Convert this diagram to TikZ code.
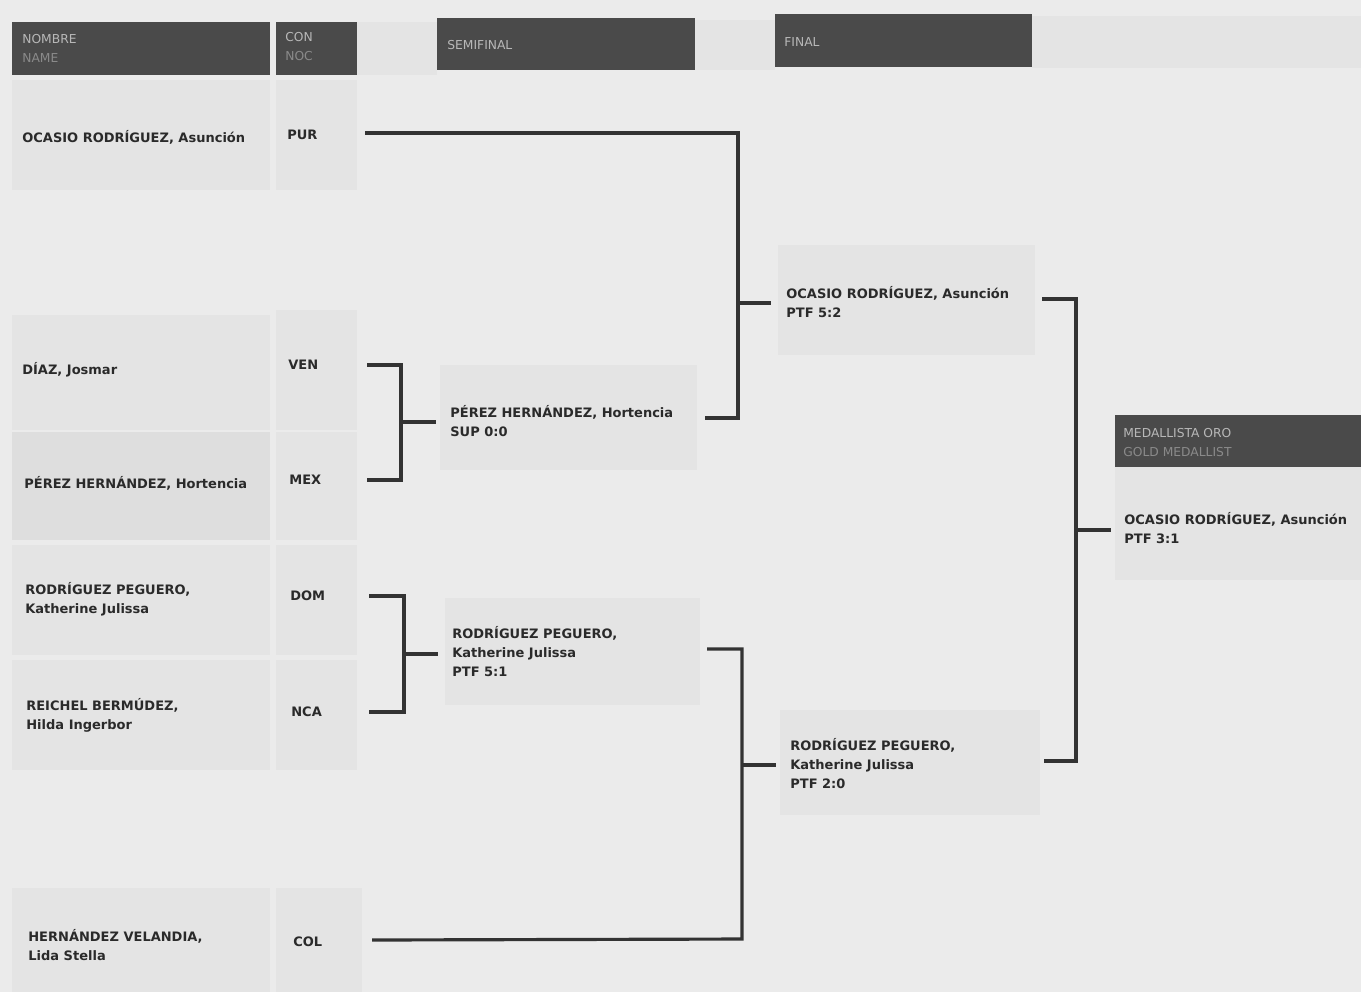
\documentclass[tikz,border=0pt]{standalone}
\usepackage{fontspec}
\setmainfont{DejaVu Sans}
\definecolor{bg}{HTML}{EBEBEB}
\definecolor{panelA}{HTML}{E4E4E4}
\definecolor{panelB}{HTML}{DEDEDE}
\definecolor{hdr}{HTML}{4A4A4A}
\definecolor{hdrtxt}{HTML}{B8B8B8}
\definecolor{hdrtxt2}{HTML}{8A8A8A}
\definecolor{ink}{HTML}{2A2A2A}
\definecolor{lineclr}{HTML}{333333}
\tikzset{
  hdrbox/.style={fill=hdr,draw=none},
  panel/.style={fill=panelA,draw=none},
  paneldark/.style={fill=panelB,draw=none},
  nm/.style={anchor=north west,inner sep=0pt,align=left,text=ink,font=\fontsize{7.4}{10.8}\selectfont\bfseries},
  hd/.style={anchor=north west,inner sep=0pt,align=left,text=hdrtxt,font=\fontsize{7}{10.8}\selectfont},
  conn/.style={draw=lineclr,line width=1.8pt,line cap=butt,line join=miter}
}
\begin{document}
\begin{tikzpicture}[x=0.02cm,y=-0.02cm]
\useasboundingbox (0,0) rectangle (1361,992);
\fill[bg] (0,0) rectangle (1361,992);
% top pale band
\fill[panelA] (357,22) rectangle (437,75);
\fill[panelA] (695,20) rectangle (775,70);
\fill[panelA] (1032,16) rectangle (1361,68);
% left panels
\fill[panel] (12,80) rectangle (270,190);
\fill[panel] (276,80) rectangle (357,190);
\fill[panel] (12,315) rectangle (270,430);
\fill[panel] (276,310) rectangle (357,430);
\fill[paneldark] (12,432) rectangle (270,540);
\fill[panel] (276,432) rectangle (357,540);
\fill[panel] (12,545) rectangle (270,655);
\fill[panel] (276,545) rectangle (357,655);
\fill[panel] (12,660) rectangle (270,770);
\fill[panel] (276,660) rectangle (357,770);
\fill[panel] (12,888) rectangle (270,992);
\fill[panel] (276,888) rectangle (362,992);
% semifinal / final / gold panels
\fill[panel] (440,365) rectangle (697,470);
\fill[panel] (445,598) rectangle (700,705);
\fill[panel] (778,245) rectangle (1035,355);
\fill[panel] (780,710) rectangle (1040,815);
\fill[panel] (1115,467) rectangle (1361,580);
% headers
\fill[hdrbox] (12,22) rectangle (270,75);
\fill[hdrbox] (276,22) rectangle (357,75);
\fill[hdrbox] (437,18) rectangle (695,70);
\fill[hdrbox] (775,14) rectangle (1032,67);
\fill[hdrbox] (1115,415) rectangle (1361,467);
\node[hd] (hName) at (22,34) {NOMBRE\\\textcolor{hdrtxt2}{NAME}};
\node[hd] (hNoc) at (285,32) {CON\\\textcolor{hdrtxt2}{NOC}};
\node[hd] (hSemi) at (447,40) {SEMIFINAL};
\node[hd] (hFinal) at (784,37) {FINAL};
\node[hd] (hGold) at (1123,428) {MEDALLISTA ORO\\\textcolor{hdrtxt2}{GOLD MEDALLIST}};
% competitors
\node[nm] (n1) at (22,130) {OCASIO RODRÍGUEZ, Asunción};
\node[nm] (c1) at (287,130) {PUR};
\node[nm] (n2) at (22,362) {DÍAZ, Josmar};
\node[nm] (c2) at (288,360) {VEN};
\node[nm] (n3) at (24,476) {PÉREZ HERNÁNDEZ, Hortencia};
\node[nm] (c3) at (289,475) {MEX};
\node[nm] (n4) at (25,582) {RODRÍGUEZ PEGUERO,\\Katherine Julissa};
\node[nm] (c4) at (290,590) {DOM};
\node[nm] (n5) at (26,698) {REICHEL BERMÚDEZ,\\Hilda Ingerbor};
\node[nm] (c5) at (291,706) {NCA};
\node[nm] (n6) at (28,929) {HERNÁNDEZ VELANDIA,\\Lida Stella};
\node[nm] (c6) at (293,936) {COL};
% semifinal winners
\node[nm] (s1) at (450,405) {PÉREZ HERNÁNDEZ, Hortencia\\SUP 0:0};
\node[nm] (s2) at (452,626) {RODRÍGUEZ PEGUERO,\\Katherine Julissa\\PTF 5:1};
% final
\node[nm] (f1) at (786,286) {OCASIO RODRÍGUEZ, Asunción\\PTF 5:2};
\node[nm] (f2) at (790,738) {RODRÍGUEZ PEGUERO,\\Katherine Julissa\\PTF 2:0};
% gold
\node[nm] (g1) at (1124,512) {OCASIO RODRÍGUEZ, Asunción\\PTF 3:1};
% connector end points
\coordinate (p1) at (365,133);
\coordinate (p2) at (367,365);
\coordinate (p3) at (367,480);
\coordinate (p4) at (369,596);
\coordinate (p5) at (369,712);
\coordinate (p6) at (372,940);
\coordinate (sa) at (436,422);
\coordinate (sb) at (438,654);
\coordinate (so1) at (705,418);
\coordinate (so2) at (707,649);
\coordinate (fa) at (771,303);
\coordinate (fb) at (776,765);
\coordinate (fo1) at (1042,299);
\coordinate (fo2) at (1044,761);
\coordinate (ga) at (1111,530);
% brackets
\draw[conn] (p2) -- (401,365) -- (401,480) -- (p3);
\draw[conn] (401,422) -- (sa);
\draw[conn] (p4) -- (404,596) -- (404,712) -- (p5);
\draw[conn] (404,654) -- (sb);
\draw[conn] (p1) -- (738,133) -- (738,418) -- (so1);
\draw[conn] (738,303) -- (fa);
\draw[conn] (so2) -- (742,649) -- (742,939) -- (p6);
\draw[conn] (742,765) -- (fb);
\draw[conn] (fo1) -- (1076,299) -- (1076,761) -- (fo2);
\draw[conn] (1076,530) -- (ga);
\end{tikzpicture}
\end{document}
